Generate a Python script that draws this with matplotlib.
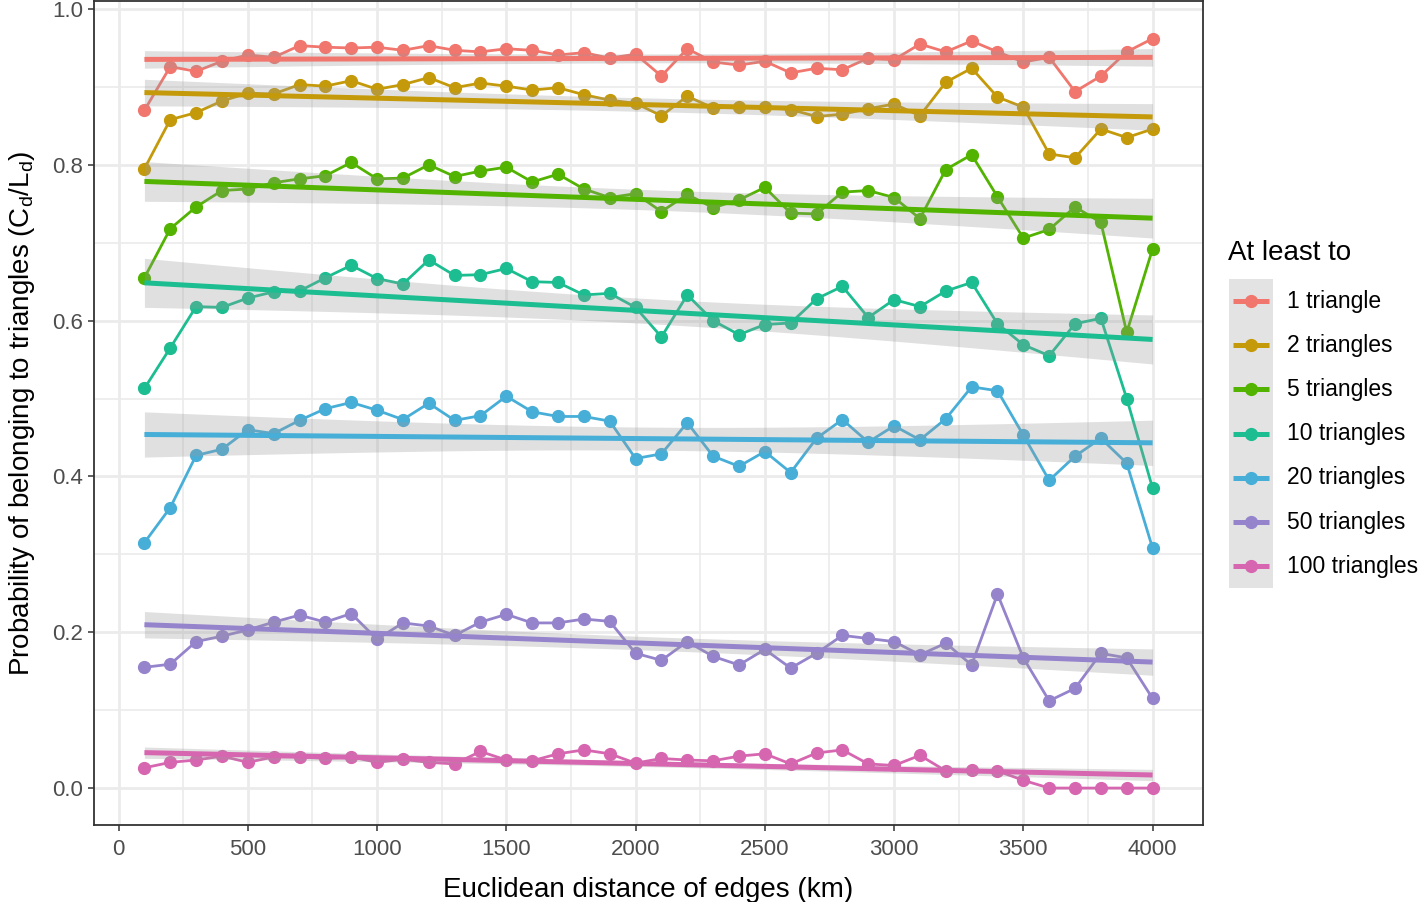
import numpy as np
import matplotlib

matplotlib.use("Agg")

import matplotlib.pyplot as plt

plt.rcParams["font.family"] = ["Liberation Sans", "DejaVu Sans"]

# distance bins (km)
distance = list(range(100, 4100, 100))

series_labels = ["1 triangle", "2 triangles", "5 triangles", "10 triangles",
                 "20 triangles", "50 triangles", "100 triangles"]
series_colors = ["#F0766E", "#C49A0A", "#52B300", "#1CBD90",
                 "#47AED8", "#9583CC", "#D766B0"]

at_least_1 = [0.870, 0.926, 0.920, 0.933, 0.941, 0.938, 0.953, 0.951, 0.950, 0.951,
              0.947, 0.953, 0.947, 0.945, 0.949, 0.947, 0.941, 0.944, 0.937, 0.942,
              0.914, 0.949, 0.932, 0.928, 0.933, 0.918, 0.924, 0.922, 0.937, 0.935,
              0.955, 0.945, 0.959, 0.945, 0.932, 0.938, 0.894, 0.914, 0.945, 0.962]
at_least_2 = [0.795, 0.858, 0.867, 0.882, 0.892, 0.891, 0.903, 0.901, 0.908, 0.897,
              0.903, 0.912, 0.899, 0.905, 0.901, 0.896, 0.899, 0.890, 0.883, 0.879,
              0.863, 0.888, 0.873, 0.874, 0.874, 0.871, 0.862, 0.865, 0.872, 0.878,
              0.863, 0.906, 0.924, 0.887, 0.874, 0.814, 0.809, 0.846, 0.835, 0.846]
at_least_5 = [0.655, 0.718, 0.746, 0.767, 0.769, 0.777, 0.782, 0.786, 0.803, 0.782,
              0.783, 0.800, 0.785, 0.792, 0.797, 0.778, 0.788, 0.769, 0.758, 0.763,
              0.740, 0.762, 0.745, 0.755, 0.771, 0.738, 0.737, 0.765, 0.767, 0.758,
              0.731, 0.794, 0.813, 0.759, 0.706, 0.717, 0.746, 0.726, 0.585, 0.692]
at_least_10 = [0.513, 0.565, 0.618, 0.617, 0.629, 0.637, 0.638, 0.655, 0.671, 0.654,
               0.647, 0.678, 0.658, 0.659, 0.667, 0.650, 0.649, 0.633, 0.635, 0.617,
               0.579, 0.633, 0.600, 0.582, 0.595, 0.597, 0.628, 0.644, 0.604, 0.627,
               0.618, 0.638, 0.649, 0.596, 0.569, 0.555, 0.596, 0.603, 0.500, 0.385]
at_least_20 = [0.315, 0.360, 0.427, 0.435, 0.460, 0.455, 0.472, 0.487, 0.495, 0.485,
               0.473, 0.494, 0.472, 0.478, 0.503, 0.483, 0.477, 0.477, 0.471, 0.423,
               0.429, 0.469, 0.426, 0.413, 0.432, 0.405, 0.449, 0.473, 0.444, 0.465,
               0.447, 0.474, 0.515, 0.510, 0.453, 0.395, 0.426, 0.449, 0.417, 0.308]
at_least_50 = [0.155, 0.159, 0.188, 0.195, 0.203, 0.213, 0.222, 0.213, 0.224, 0.191,
               0.212, 0.208, 0.196, 0.213, 0.223, 0.212, 0.212, 0.217, 0.214, 0.173,
               0.164, 0.188, 0.169, 0.158, 0.178, 0.154, 0.173, 0.196, 0.192, 0.188,
               0.171, 0.186, 0.158, 0.249, 0.167, 0.112, 0.128, 0.173, 0.167, 0.115]
at_least_100 = [0.026, 0.033, 0.036, 0.041, 0.033, 0.040, 0.040, 0.038, 0.040, 0.033,
                0.037, 0.033, 0.031, 0.047, 0.036, 0.035, 0.044, 0.049, 0.044, 0.032,
                0.038, 0.036, 0.035, 0.041, 0.044, 0.031, 0.045, 0.049, 0.031, 0.029,
                0.042, 0.022, 0.023, 0.022, 0.010, 0.000, 0.000, 0.000, 0.000, 0.000]

all_series = [at_least_1, at_least_2, at_least_5, at_least_10,
              at_least_20, at_least_50, at_least_100]

W, H = 1418, 902


def fig_rect(x0, y0, x1, y1):
    # pixel box (top-left origin) -> figure fraction rect
    return [x0 / W, 1 - y1 / H, (x1 - x0) / W, (y1 - y0) / H]


def lm_fit(x, y, t_crit=2.024):
    # straight line fit with 95% confidence band, like geom_smooth(method="lm")
    x = np.asarray(x, float)
    y = np.asarray(y, float)
    slope, icpt = np.polyfit(x, y, 1)
    resid = y - (slope * x + icpt)
    s = np.sqrt(np.sum(resid ** 2) / (len(x) - 2))
    sxx = np.sum((x - x.mean()) ** 2)
    xs = np.linspace(x.min(), x.max(), 80)
    fit = slope * xs + icpt
    se = s * np.sqrt(1 / len(x) + (xs - x.mean()) ** 2 / sxx)
    return xs, fit, fit - t_crit * se, fit + t_crit * se


fig = plt.figure(figsize=(W / 100, H / 100), dpi=100)
ax = fig.add_axes(fig_rect(94, 1, 1203, 825))

for vals, col in zip(all_series, series_colors):
    ax.plot(distance, vals, color=col, lw=2.0, marker="o", ms=8.5, zorder=3)
    xs, fit, lo, hi = lm_fit(distance, vals)
    ax.fill_between(xs, lo, hi, color="#999999", alpha=0.3, lw=0, zorder=4)
    ax.plot(xs, fit, color=col, lw=3.6, zorder=5, solid_capstyle="butt")

ax.set_xlim(-95, 4195)
ax.set_ylim(-0.0474, 1.0103)
ax.set_xticks(np.arange(0, 4001, 500))
ax.set_xticks(np.arange(250, 4000, 500), minor=True)
ax.set_yticks(np.arange(0, 1.01, 0.2))
ax.set_yticks(np.arange(0.1, 1.0, 0.2), minor=True)
ax.set_yticklabels([f"{v:.1f}" for v in np.arange(0, 1.01, 0.2)])

ax.grid(which="major", color="#EBEBEB", lw=2.0, zorder=0)
ax.grid(which="minor", color="#EBEBEB", lw=1.2, zorder=0)
ax.set_axisbelow(True)
ax.tick_params(which="minor", length=0)
ax.tick_params(which="major", length=4, width=1.1, color="#333333",
               labelsize=16, labelcolor="#4D4D4D")
ax.tick_params(axis="x", pad=6)
ax.tick_params(axis="y", pad=4)
for sp in ax.spines.values():
    sp.set_color("#333333")
    sp.set_linewidth(1.3)

ax.set_xlabel("Euclidean distance of edges (km)", fontsize=20, labelpad=12)
ax.set_ylabel(r"Probability of belonging to triangles (C$_\mathregular{d}$/L$_\mathregular{d}$)",
              fontsize=20, labelpad=11)

# legend drawn in its own pixel-space axes
lax = fig.add_axes(fig_rect(1220, 230, 1418, 600))
lax.set_xlim(1220, 1418)
lax.set_ylim(600, 230)
lax.axis("off")
lax.text(1228, 253, "At least to", fontsize=20, va="center", ha="left")
key_top, key_h = 279, 44.2
lax.fill_between([1229, 1273], key_top, key_top + key_h * len(series_labels),
                 color="#E3E3E3", lw=0)
for i, (lab, col) in enumerate(zip(series_labels, series_colors)):
    cy = key_top + key_h * (i + 0.5)
    lax.plot([1233, 1269], [cy, cy], color=col, lw=3.6, solid_capstyle="butt")
    lax.plot([1251], [cy], marker="o", color=col, ms=8.5)
    lax.text(1287, cy, lab, fontsize=16.5, va="center", ha="left")

fig.savefig("out.png", dpi=100)
